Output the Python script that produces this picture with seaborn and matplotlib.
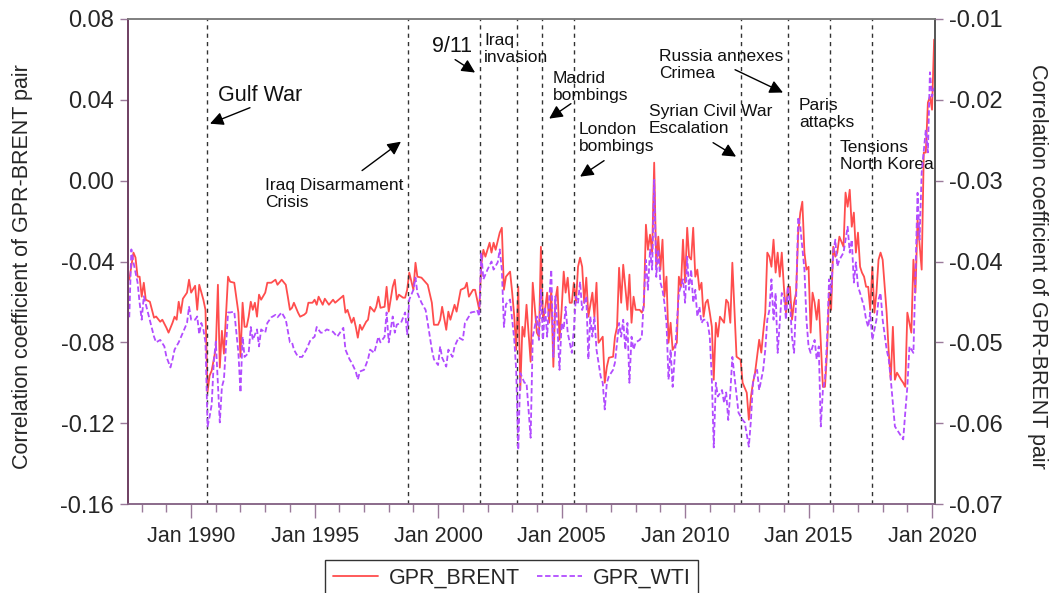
import pandas as pd
import matplotlib.pyplot as plt
import matplotlib.dates as mdates
from matplotlib.lines import Line2D
import seaborn as sns

# GPR-BRENT correlation (left axis)
brent_dates = [
    '1987-07', '1987-09', '1987-10', '1987-11', '1987-12', '1988-01', '1988-02', '1988-03', '1988-05', '1988-07',
    '1988-08', '1988-10', '1988-11', '1989-01', '1989-02', '1989-04', '1989-05', '1989-06', '1989-07', '1989-08',
    '1989-09', '1989-11', '1989-12', '1990-01', '1990-03', '1990-04', '1990-05', '1990-07', '1990-08', '1990-09',
    '1990-10', '1990-11', '1991-01', '1991-02', '1991-03', '1991-04', '1991-05', '1991-07', '1991-08', '1991-10',
    '1991-12', '1992-01', '1992-02', '1992-03', '1992-04', '1992-05', '1992-06', '1992-07', '1992-08', '1992-09',
    '1992-10', '1992-11', '1993-01', '1993-02', '1993-04', '1993-06', '1993-07', '1993-09', '1993-11', '1993-12',
    '1994-01', '1994-02', '1994-03', '1994-05', '1994-06', '1994-08', '1994-09', '1994-10', '1994-12', '1995-01',
    '1995-02', '1995-03', '1995-05', '1995-06', '1995-08', '1995-10', '1995-11', '1996-03', '1996-04', '1996-05',
    '1996-07', '1996-08', '1996-09', '1996-10', '1996-11', '1996-12', '1997-02', '1997-03', '1997-04', '1997-06',
    '1997-07', '1997-08', '1997-09', '1997-11', '1997-12', '1998-01', '1998-03', '1998-04', '1998-05', '1998-06',
    '1998-08', '1998-09', '1998-10', '1998-11', '1999-01', '1999-02', '1999-03', '1999-05', '1999-08', '1999-10',
    '1999-11', '2000-01', '2000-02', '2000-03', '2000-05', '2000-06', '2000-07', '2000-09', '2000-10', '2000-12',
    '2001-02', '2001-03', '2001-04', '2001-06', '2001-07', '2001-09', '2001-10', '2001-11', '2001-12', '2002-02',
    '2002-03', '2002-04', '2002-05', '2002-07', '2002-08', '2002-09', '2002-10', '2002-12', '2003-01', '2003-02',
    '2003-03', '2003-04', '2003-05', '2003-06', '2003-07', '2003-08', '2003-10', '2003-11', '2004-01', '2004-02',
    '2004-03', '2004-04', '2004-05', '2004-06', '2004-07', '2004-08', '2004-09', '2004-10', '2004-11', '2004-12',
    '2005-01', '2005-02', '2005-03', '2005-04', '2005-05', '2005-06', '2005-07', '2005-08', '2005-09', '2005-10',
    '2005-11', '2005-12', '2006-01', '2006-02', '2006-04', '2006-05', '2006-06', '2006-07', '2006-09', '2006-10',
    '2006-11', '2006-12', '2007-02', '2007-03', '2007-04', '2007-05', '2007-06', '2007-07', '2007-09', '2007-10',
    '2007-11', '2007-12', '2008-01', '2008-03', '2008-04', '2008-05', '2008-06', '2008-07', '2008-08', '2008-09',
    '2008-10', '2008-11', '2008-12', '2009-01', '2009-02', '2009-03', '2009-04', '2009-05', '2009-06', '2009-07',
    '2009-09', '2009-10', '2009-11', '2009-12', '2010-01', '2010-02', '2010-03', '2010-04', '2010-05', '2010-06',
    '2010-07', '2010-08', '2010-09', '2010-10', '2010-11', '2010-12', '2011-01', '2011-02', '2011-03', '2011-04',
    '2011-05', '2011-06', '2011-08', '2011-09', '2011-10', '2011-11', '2011-12', '2012-02', '2012-04', '2012-05',
    '2012-07', '2012-08', '2012-09', '2012-10', '2012-11', '2013-01', '2013-02', '2013-03', '2013-04', '2013-05',
    '2013-06', '2013-07', '2013-08', '2013-09', '2013-10', '2013-11', '2013-12', '2014-01', '2014-02', '2014-03',
    '2014-04', '2014-05', '2014-06', '2014-07', '2014-08', '2014-09', '2014-10', '2014-11', '2014-12', '2015-01',
    '2015-02', '2015-03', '2015-04', '2015-05', '2015-06', '2015-07', '2015-08', '2015-09', '2015-10', '2015-11',
    '2015-12', '2016-01', '2016-02', '2016-03', '2016-04', '2016-06', '2016-07', '2016-08', '2016-09', '2016-10',
    '2016-11', '2016-12', '2017-01', '2017-02', '2017-03', '2017-04', '2017-05', '2017-06', '2017-07', '2017-08',
    '2017-09', '2017-10', '2017-11', '2017-12', '2018-01', '2018-03', '2018-04', '2018-05', '2018-06', '2018-07',
    '2018-08', '2018-10', '2018-11', '2018-12', '2019-01', '2019-03', '2019-04', '2019-05', '2019-06', '2019-08',
    '2019-09', '2019-10', '2019-11', '2019-12', '2020-01', '2020-02',
]
brent_values = [
    -0.0490, -0.0356, -0.0380, -0.0475, -0.0475, -0.0574, -0.0505, -0.0589, -0.0599, -0.0678,
    -0.0672, -0.0698, -0.0688, -0.0728, -0.0752, -0.0703, -0.0673, -0.0688, -0.0599, -0.0655,
    -0.0584, -0.0554, -0.0490, -0.0554, -0.0520, -0.0639, -0.0515, -0.0589, -0.0639, -0.1045,
    -0.0965, -0.0940, -0.0830, -0.0515, -0.0925, -0.0743, -0.0856, -0.0475, -0.0500, -0.0505,
    -0.0653, -0.0871, -0.0604, -0.0723, -0.0723, -0.0673, -0.0599, -0.0639, -0.0604, -0.0673,
    -0.0564, -0.0589, -0.0554, -0.0505, -0.0505, -0.0490, -0.0515, -0.0490, -0.0515, -0.0574,
    -0.0639, -0.0629, -0.0604, -0.0653, -0.0673, -0.0663, -0.0653, -0.0604, -0.0604, -0.0589,
    -0.0614, -0.0574, -0.0614, -0.0584, -0.0614, -0.0589, -0.0604, -0.0569, -0.0653, -0.0639,
    -0.0703, -0.0678, -0.0723, -0.0777, -0.0713, -0.0738, -0.0698, -0.0688, -0.0624, -0.0648,
    -0.0624, -0.0574, -0.0629, -0.0624, -0.0525, -0.0648, -0.0525, -0.0490, -0.0589, -0.0564,
    -0.0579, -0.0579, -0.0540, -0.0455, -0.0540, -0.0406, -0.0475, -0.0480, -0.0515, -0.0604,
    -0.0713, -0.0713, -0.0688, -0.0624, -0.0738, -0.0648, -0.0688, -0.0614, -0.0648, -0.0540,
    -0.0530, -0.0505, -0.0574, -0.0540, -0.0540, -0.0639, -0.0416, -0.0342, -0.0376, -0.0307,
    -0.0356, -0.0307, -0.0342, -0.0257, -0.0233, -0.0540, -0.0475, -0.0450, -0.0554, -0.0673,
    -0.0837, -0.0525, -0.1035, -0.0723, -0.0772, -0.0614, -0.0896, -0.0505, -0.0752, -0.0772,
    -0.0327, -0.0688, -0.0639, -0.0554, -0.0703, -0.0540, -0.0921, -0.0589, -0.0525, -0.0787,
    -0.0639, -0.0450, -0.0554, -0.0480, -0.0604, -0.0604, -0.0505, -0.0604, -0.0426, -0.0381,
    -0.0426, -0.0604, -0.0480, -0.0673, -0.0554, -0.0673, -0.0505, -0.0802, -0.0772, -0.1000,
    -0.0921, -0.0876, -0.0871, -0.0772, -0.0723, -0.0431, -0.0604, -0.0416, -0.0639, -0.0465,
    -0.0703, -0.0574, -0.0639, -0.0639, -0.0653, -0.0624, -0.0218, -0.0342, -0.0267, -0.0356,
    0.0089, -0.0426, -0.0277, -0.0440, -0.0292, -0.0574, -0.0475, -0.0802, -0.0703, -0.0837,
    -0.0802, -0.0475, -0.0525, -0.0292, -0.0505, -0.0233, -0.0376, -0.0390, -0.0233, -0.0475,
    -0.0440, -0.0540, -0.0505, -0.0673, -0.0604, -0.0589, -0.0653, -0.0723, -0.0985, -0.0703,
    -0.0772, -0.0673, -0.0703, -0.0589, -0.0604, -0.0703, -0.0406, -0.0871, -0.0886, -0.1000,
    -0.1049, -0.1183, -0.1069, -0.1000, -0.0950, -0.0787, -0.0851, -0.0752, -0.0653, -0.0356,
    -0.0376, -0.0426, -0.0292, -0.0455, -0.0356, -0.0475, -0.0356, -0.0525, -0.0653, -0.0525,
    -0.0525, -0.0688, -0.0604, -0.0554, -0.0257, -0.0158, -0.0104, -0.0356, -0.0440, -0.0426,
    -0.0752, -0.0554, -0.0604, -0.0688, -0.0589, -0.0802, -0.1020, -0.1020, -0.0851, -0.0554,
    -0.0639, -0.0327, -0.0376, -0.0356, -0.0277, -0.0327, -0.0059, -0.0129, -0.0045, -0.0228,
    -0.0158, -0.0356, -0.0257, -0.0426, -0.0455, -0.0475, -0.0525, -0.0525, -0.0639, -0.0426,
    -0.0653, -0.0554, -0.0391, -0.0356, -0.0391, -0.0653, -0.0851, -0.0985, -0.0723, -0.0985,
    -0.0950, -0.0985, -0.1000, -0.1020, -0.0653, -0.0752, -0.0391, -0.0554, -0.0193, -0.0440,
    0.0139, 0.0139, 0.0386, 0.0416, 0.0351, 0.0698,
]

# GPR-WTI correlation (right axis)
wti_dates = [
    '1987-07', '1987-08', '1987-09', '1987-11', '1987-12', '1988-01', '1988-02', '1988-04', '1988-07', '1988-08',
    '1988-10', '1988-12', '1989-01', '1989-03', '1989-04', '1989-05', '1989-07', '1989-09', '1989-11', '1989-12',
    '1990-01', '1990-03', '1990-04', '1990-05', '1990-06', '1990-07', '1990-08', '1990-09', '1990-10', '1990-11',
    '1990-12', '1991-01', '1991-03', '1991-04', '1991-05', '1991-07', '1991-08', '1991-10', '1991-12', '1992-01',
    '1992-02', '1992-03', '1992-05', '1992-06', '1992-07', '1992-09', '1992-10', '1992-11', '1993-01', '1993-02',
    '1993-04', '1993-06', '1993-07', '1993-09', '1993-11', '1994-01', '1994-02', '1994-03', '1994-05', '1994-07',
    '1994-09', '1994-11', '1995-01', '1995-02', '1995-04', '1995-05', '1995-07', '1995-10', '1995-12', '1996-03',
    '1996-04', '1996-06', '1996-07', '1996-09', '1996-10', '1996-11', '1997-01', '1997-03', '1997-04', '1997-06',
    '1997-08', '1997-09', '1997-11', '1997-12', '1998-01', '1998-03', '1998-04', '1998-05', '1998-07', '1998-09',
    '1998-10', '1998-11', '1999-01', '1999-02', '1999-03', '1999-05', '1999-07', '1999-08', '1999-10', '1999-11',
    '2000-01', '2000-02', '2000-03', '2000-05', '2000-06', '2000-08', '2000-09', '2000-11', '2001-01', '2001-02',
    '2001-04', '2001-05', '2001-07', '2001-08', '2001-09', '2001-10', '2001-11', '2002-01', '2002-03', '2002-04',
    '2002-06', '2002-07', '2002-08', '2002-09', '2002-10', '2002-12', '2003-02', '2003-03', '2003-04', '2003-05',
    '2003-07', '2003-08', '2003-10', '2003-11', '2004-01', '2004-02', '2004-03', '2004-04', '2004-05', '2004-06',
    '2004-07', '2004-08', '2004-09', '2004-10', '2004-11', '2004-12', '2005-01', '2005-02', '2005-03', '2005-04',
    '2005-06', '2005-07', '2005-08', '2005-09', '2005-10', '2005-11', '2006-01', '2006-02', '2006-03', '2006-04',
    '2006-05', '2006-06', '2006-08', '2006-09', '2006-10', '2006-11', '2006-12', '2007-02', '2007-03', '2007-04',
    '2007-05', '2007-06', '2007-07', '2007-08', '2007-09', '2007-10', '2007-11', '2007-12', '2008-01', '2008-03',
    '2008-04', '2008-06', '2008-07', '2008-08', '2008-09', '2008-10', '2008-11', '2008-12', '2009-01', '2009-02',
    '2009-03', '2009-04', '2009-05', '2009-06', '2009-07', '2009-08', '2009-10', '2009-12', '2010-01', '2010-02',
    '2010-03', '2010-04', '2010-05', '2010-06', '2010-07', '2010-08', '2010-09', '2010-10', '2010-11', '2010-12',
    '2011-01', '2011-02', '2011-03', '2011-04', '2011-05', '2011-07', '2011-08', '2011-09', '2011-10', '2011-11',
    '2011-12', '2012-03', '2012-05', '2012-06', '2012-08', '2012-09', '2012-10', '2012-11', '2012-12', '2013-01',
    '2013-03', '2013-04', '2013-05', '2013-06', '2013-07', '2013-08', '2013-09', '2013-10', '2013-12', '2014-01',
    '2014-02', '2014-03', '2014-04', '2014-05', '2014-06', '2014-07', '2014-08', '2014-09', '2014-11', '2014-12',
    '2015-01', '2015-02', '2015-04', '2015-05', '2015-06', '2015-07', '2015-08', '2015-09', '2015-10', '2015-11',
    '2015-12', '2016-01', '2016-02', '2016-03', '2016-04', '2016-06', '2016-07', '2016-08', '2016-09', '2016-10',
    '2016-11', '2016-12', '2017-01', '2017-02', '2017-04', '2017-05', '2017-06', '2017-07', '2017-08', '2017-10',
    '2017-11', '2017-12', '2018-01', '2018-03', '2018-04', '2018-05', '2018-06', '2018-07', '2018-09', '2018-11',
    '2018-12', '2019-01', '2019-02', '2019-04', '2019-05', '2019-06', '2019-07', '2019-08', '2019-10', '2019-11',
    '2019-12', '2020-01', '2020-02',
]
wti_values = [
    -0.0469, -0.0385, -0.0401, -0.0426, -0.0451, -0.0472, -0.0443, -0.0463, -0.0493, -0.0500,
    -0.0497, -0.0505, -0.0518, -0.0531, -0.0521, -0.0509, -0.0500, -0.0488, -0.0476, -0.0456,
    -0.0472, -0.0472, -0.0468, -0.0490, -0.0476, -0.0484, -0.0500, -0.0604, -0.0592, -0.0577,
    -0.0525, -0.0499, -0.0599, -0.0555, -0.0546, -0.0463, -0.0463, -0.0462, -0.0513, -0.0562,
    -0.0493, -0.0518, -0.0513, -0.0481, -0.0497, -0.0484, -0.0505, -0.0484, -0.0488, -0.0476,
    -0.0469, -0.0466, -0.0469, -0.0463, -0.0472, -0.0500, -0.0500, -0.0509, -0.0518, -0.0518,
    -0.0509, -0.0497, -0.0493, -0.0481, -0.0488, -0.0488, -0.0484, -0.0487, -0.0493, -0.0482,
    -0.0509, -0.0521, -0.0525, -0.0536, -0.0546, -0.0536, -0.0534, -0.0521, -0.0509, -0.0513,
    -0.0493, -0.0500, -0.0493, -0.0463, -0.0500, -0.0468, -0.0488, -0.0478, -0.0476, -0.0463,
    -0.0490, -0.0447, -0.0435, -0.0420, -0.0439, -0.0451, -0.0460, -0.0476, -0.0509, -0.0521,
    -0.0528, -0.0505, -0.0519, -0.0530, -0.0509, -0.0518, -0.0505, -0.0494, -0.0497, -0.0476,
    -0.0468, -0.0463, -0.0462, -0.0460, -0.0468, -0.0389, -0.0422, -0.0410, -0.0400, -0.0410,
    -0.0401, -0.0385, -0.0410, -0.0481, -0.0453, -0.0447, -0.0497, -0.0534, -0.0633, -0.0538,
    -0.0550, -0.0550, -0.0618, -0.0493, -0.0468, -0.0497, -0.0435, -0.0497, -0.0456, -0.0493,
    -0.0447, -0.0410, -0.0518, -0.0443, -0.0481, -0.0534, -0.0476, -0.0484, -0.0456, -0.0488,
    -0.0513, -0.0484, -0.0443, -0.0451, -0.0425, -0.0460, -0.0443, -0.0521, -0.0468, -0.0493,
    -0.0468, -0.0509, -0.0542, -0.0550, -0.0583, -0.0550, -0.0542, -0.0534, -0.0525, -0.0500,
    -0.0476, -0.0493, -0.0472, -0.0509, -0.0476, -0.0550, -0.0493, -0.0509, -0.0500, -0.0497,
    -0.0493, -0.0398, -0.0435, -0.0385, -0.0410, -0.0299, -0.0419, -0.0385, -0.0426, -0.0435,
    -0.0451, -0.0476, -0.0546, -0.0509, -0.0555, -0.0518, -0.0439, -0.0422, -0.0451, -0.0394,
    -0.0435, -0.0410, -0.0451, -0.0435, -0.0468, -0.0456, -0.0476, -0.0472, -0.0472, -0.0476,
    -0.0493, -0.0546, -0.0630, -0.0550, -0.0567, -0.0559, -0.0575, -0.0562, -0.0596, -0.0562,
    -0.0518, -0.0587, -0.0596, -0.0599, -0.0629, -0.0596, -0.0550, -0.0538, -0.0534, -0.0559,
    -0.0534, -0.0509, -0.0472, -0.0460, -0.0422, -0.0472, -0.0439, -0.0513, -0.0439, -0.0443,
    -0.0472, -0.0431, -0.0451, -0.0493, -0.0513, -0.0447, -0.0345, -0.0357, -0.0410, -0.0472,
    -0.0505, -0.0513, -0.0497, -0.0521, -0.0505, -0.0604, -0.0559, -0.0546, -0.0497, -0.0422,
    -0.0439, -0.0389, -0.0373, -0.0406, -0.0398, -0.0389, -0.0373, -0.0357, -0.0389, -0.0373,
    -0.0426, -0.0401, -0.0431, -0.0439, -0.0456, -0.0472, -0.0481, -0.0463, -0.0497, -0.0472,
    -0.0447, -0.0439, -0.0472, -0.0509, -0.0521, -0.0546, -0.0575, -0.0604, -0.0612, -0.0620,
    -0.0587, -0.0555, -0.0505, -0.0513, -0.0414, -0.0315, -0.0373, -0.0290, -0.0237, -0.0265,
    -0.0166, -0.0196, -0.0185,
]

# event lines
event_dates = ['1990-08-20', '1998-10-15', '2001-09-11', '2003-03-20', '2004-03-11',
               '2005-07-07', '2012-04-01', '2014-02-27', '2015-11-13', '2017-07-28']

# annotation text: (label, text date, text y, size, arrow tail date, tail y, arrow tip date, tip y)
notes = [
    ('Gulf War', '1991-02-04', 0.0421, 15.5, '1992-05-20', 0.0361, '1990-10-07', 0.0282),
    ('Iraq Disarmament\nCrisis', '1992-12-31', -0.0067, 12.5, '1996-12-03', 0.0050, '1998-07-01', 0.0193),
    ('9/11', '1999-10-04', 0.0663, 15.5, '2000-09-09', 0.0599, '2001-07-01', 0.0535),
    ('Iraq\ninvasion', '2001-11-12', 0.0653, 12.5, None, None, None, None),
    ('Madrid\nbombings', '2004-08-28', 0.0463, 12.5, '2005-05-19', 0.0381, '2004-07-01', 0.0307),
    ('London\nbombings', '2005-09-16', 0.0210, 12.5, '2006-09-21', 0.0099, '2005-10-01', 0.0020),
    ('Russia annexes\nCrimea', '2008-12-13', 0.0572, 12.5, '2012-01-10', 0.0549, '2013-12-19', 0.0436),
    ('Syrian Civil War\nEscalation', '2008-07-16', 0.0299, 12.5, '2011-02-19', 0.0188, '2012-01-25', 0.0119),
    ('Paris\nattacks', '2014-08-13', 0.0329, 12.5, None, None, None, None),
    ('Tensions\nNorth Korea', '2016-04-10', 0.0121, 12.5, None, None, None, None),
]

sns.set_style('ticks')
plt.rcParams['font.family'] = ['Liberation Sans', 'DejaVu Sans']
plt.rcParams['axes.unicode_minus'] = False

brent = pd.DataFrame({'date': pd.to_datetime(brent_dates), 'corr': brent_values})
wti = pd.DataFrame({'date': pd.to_datetime(wti_dates), 'corr': wti_values})

fig = plt.figure(figsize=(10.53, 5.93), dpi=100)
ax = fig.add_axes([0.1216, 0.150, 0.7664, 0.818])
ax2 = ax.twinx()

red = '#ff4d4d'
purple = '#b24cff'
sns.lineplot(data=brent, x='date', y='corr', ax=ax, color=red, lw=1.3, legend=False)
sns.lineplot(data=wti, x='date', y='corr', ax=ax2, color=purple, lw=1.3,
             linestyle=(0, (3, 1.5)), legend=False)

for d in event_dates:
    ax.axvline(pd.Timestamp(d), color='#333333', lw=1, ls=(0, (3, 3)), zorder=3)

for label, tx, ty, size, ax_d, ay, bx_d, by in notes:
    ax.text(mdates.date2num(pd.Timestamp(tx)), ty, label, fontsize=size,
            ha='left', va='center', color='#111111', linespacing=1.15, zorder=5)
    if ax_d is not None:
        ax.annotate('', xy=(mdates.date2num(pd.Timestamp(bx_d)), by),
                    xytext=(mdates.date2num(pd.Timestamp(ax_d)), ay),
                    arrowprops=dict(arrowstyle='-|>', color='black', lw=1,
                                    mutation_scale=20, shrinkA=0, shrinkB=0))

# axes ranges and ticks
ax.set_xlim(pd.Timestamp('1987-06-13'), pd.Timestamp('2020-02-15'))
ax.set_ylim(-0.16, 0.08)
ax2.set_ylim(-0.07, -0.01)
left_ticks = [-0.16, -0.12, -0.08, -0.04, 0.00, 0.04, 0.08]
right_ticks = [-0.07, -0.06, -0.05, -0.04, -0.03, -0.02, -0.01]
ax.set_yticks(left_ticks)
ax.set_yticklabels([f'{t:.2f}' for t in left_ticks])
ax2.set_yticks(right_ticks)
ax2.set_yticklabels([f'{t:.2f}' for t in right_ticks])

ax.xaxis.set_major_locator(mdates.YearLocator(5))
ax.xaxis.set_minor_locator(mdates.YearLocator(1))
ax.xaxis.set_major_formatter(mdates.DateFormatter('Jan %Y'))

tick_col = '#9a7a9a'
ax.tick_params(axis='x', which='major', length=10, width=1, color=tick_col, labelsize=15.5, pad=6)
ax.tick_params(axis='x', which='minor', length=6, width=1, color=tick_col)
ax.tick_params(axis='y', length=6, width=1, color=tick_col, labelsize=17, pad=4)
ax2.tick_params(axis='y', length=6, width=1, color=tick_col, labelsize=17, pad=4)

ax.set_xlabel('')
ax.set_ylabel('Correlation coefficient of GPR-BRENT pair', fontsize=15.5)
ax.yaxis.set_label_coords(-0.118, 0.49)
ax2.set_ylabel('Correlation coefficient of GPR-BRENT pair', fontsize=15.5, rotation=270, va='bottom')
ax2.yaxis.set_label_coords(1.114, 0.49)

for a in (ax, ax2):
    a.spines['top'].set_color('#7f7f7f')
    a.spines['left'].set_color('#6e3f62')
    a.spines['bottom'].set_color('#8a6a8a')
    a.spines['right'].set_color('#555555')
    for s in a.spines.values():
        s.set_linewidth(1.2)

handles = [Line2D([], [], color=red, lw=1.3),
           Line2D([], [], color=purple, lw=1.3, linestyle=(0, (3, 1.5)))]
leg = fig.legend(handles, ['GPR_BRENT', 'GPR_WTI'], loc='upper center',
                 bbox_to_anchor=(0.486, 0.0557), ncol=2, fontsize=15.5, frameon=True,
                 fancybox=False, edgecolor='black', handlelength=2.1, handletextpad=0.5,
                 columnspacing=0.8, borderpad=0.35, borderaxespad=0)
leg.get_frame().set_linewidth(1)

fig.savefig('out.png', dpi=100)
